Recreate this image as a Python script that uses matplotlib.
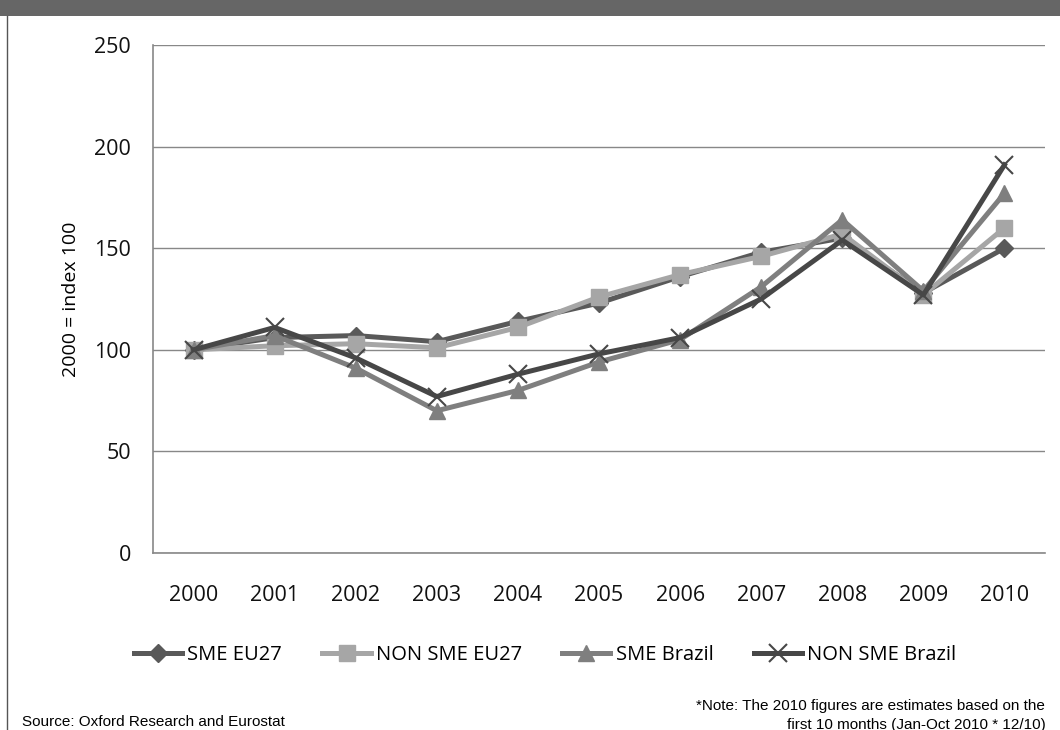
import matplotlib
matplotlib.use('Agg')
import matplotlib.pyplot as plt
from matplotlib.patches import Rectangle
from matplotlib.lines import Line2D

plt.rcParams['font.family'] = ['Open Sans', 'DejaVu Sans']

years = ['2000', '2001', '2002', '2003', '2004', '2005', '2006', '2007', '2008', '2009', '2010']
sme_eu27 = [100, 106, 107, 104, 114, 123, 136, 148, 155, 128, 150]
non_sme_eu27 = [100, 102, 103, 101, 111, 126, 137, 146, 157, 127, 160]
sme_brazil = [100, 107, 91, 70, 80, 94, 105, 131, 164, 129, 177]
non_sme_brazil = [100, 111, 96, 77, 88, 98, 106, 125, 154, 127, 191]

series = [
    ('SME EU27', sme_eu27, '#595959', 'D', 9),
    ('NON SME EU27', non_sme_eu27, '#a6a6a6', 's', 11),
    ('SME Brazil', sme_brazil, '#7f7f7f', '^', 12),
    ('NON SME Brazil', non_sme_brazil, '#474747', 'x', 13),
]

fig = plt.figure(figsize=(10.6, 7.3), dpi=100)
fig.patch.set_facecolor('white')

# grey title band and left border
fig.add_artist(Rectangle((0, 1 - 16 / 730), 1, 16 / 730, transform=fig.transFigure,
                         facecolor='#666666', edgecolor='none'))
fig.add_artist(Line2D([7 / 1060, 7 / 1060], [0, 1 - 16 / 730], transform=fig.transFigure,
                      color='#555555', lw=1))

ax = fig.add_axes([153 / 1060, 177 / 730, 892 / 1060, 508 / 730])
x = list(range(len(years)))
for name, vals, col, mk, ms in series:
    kw = dict(markeredgewidth=1.5) if mk == 'x' else dict(markeredgecolor=col)
    ax.plot(x, vals, color=col, lw=3.6, marker=mk, markersize=ms, label=name, **kw)

ax.set_xlim(-0.5, len(years) - 0.5)
ax.set_ylim(0, 250)
ax.set_yticks([0, 50, 100, 150, 200, 250])
ax.set_xticks(x)
ax.set_xticklabels(years)
ax.tick_params(axis='both', length=0, labelsize=15.5, colors='#111111')
ax.tick_params(axis='y', pad=16)
ax.tick_params(axis='x', pad=23)
ax.grid(axis='y', color='#888888', lw=1)
ax.set_axisbelow(True)
for s in ['top', 'right']:
    ax.spines[s].set_visible(False)
for s in ['left', 'bottom']:
    ax.spines[s].set_color('#888888')
    ax.spines[s].set_linewidth(1.2)
ax.set_ylabel('2000 = index 100', fontsize=14, labelpad=10)

fig.legend(loc='center', bbox_to_anchor=(545 / 1060, 1 - 655 / 730), ncol=4, frameon=False,
           fontsize=14.5, handlelength=2.4, columnspacing=2.0, handletextpad=0.25)

fig.text(22 / 1060, 1 - 722 / 730, 'Source: Oxford Research and Eurostat', fontsize=11,
         va='center', ha='left', family=['Liberation Sans', 'DejaVu Sans'])
fig.text(1045 / 1060, 1 - 706 / 730, '*Note: The 2010 figures are estimates based on the',
         fontsize=11, va='center', ha='right', family=['Liberation Sans', 'DejaVu Sans'])
fig.text(787 / 1060, 1 - 725 / 730, 'first 10 months (Jan-Oct 2010 * 12/10)',
         fontsize=11, va='center', ha='left', family=['Liberation Sans', 'DejaVu Sans'])

fig.savefig('out.png', dpi=100)
